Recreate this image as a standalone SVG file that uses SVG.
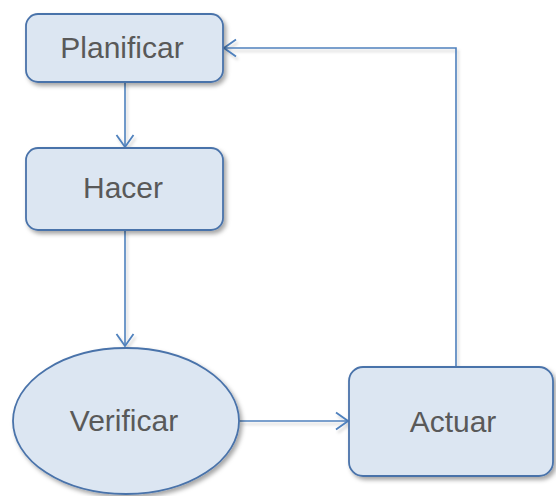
<svg xmlns="http://www.w3.org/2000/svg" width="556" height="496" viewBox="0 0 556 496">
<style>
.node{fill:#dce6f2;stroke:#4a73aa;stroke-width:1.8;filter:url(#sh)}
.lbl{font-family:"Liberation Sans",Arial,sans-serif;font-size:30px;fill:#595959;text-anchor:middle}
.con{fill:none;stroke:#4f81bd;stroke-width:1.6;filter:url(#sh2)}
</style>
<defs>
<filter id="sh" x="-20%" y="-20%" width="140%" height="140%">
<feDropShadow dx="2.5" dy="3" stdDeviation="2" flood-color="#000" flood-opacity="0.35"/>
</filter>
<filter id="sh2" filterUnits="userSpaceOnUse" x="0" y="0" width="556" height="496">
<feDropShadow dx="2" dy="3" stdDeviation="1.5" flood-color="#000" flood-opacity="0.18"/>
</filter>
<marker id="ah" viewBox="0 0 14 20" refX="13" refY="10" markerWidth="14" markerHeight="20" markerUnits="userSpaceOnUse" orient="auto">
<path d="M1,1.5 L13,10 L1,18.5" fill="none" stroke="#4f81bd" stroke-width="1.8"/>
</marker>
</defs>
<g id="connectors">
<path class="con" d="M125,82 V147" marker-end="url(#ah)"/>
<path class="con" d="M125,230 V346" marker-end="url(#ah)"/>
<path class="con" d="M239,421 H348" marker-end="url(#ah)"/>
<path class="con" d="M456,367 V48 H224" marker-end="url(#ah)"/>
</g>
<g id="planificar">
<rect class="node" x="26" y="14" width="197" height="68" rx="12"/>
<text class="lbl" x="122" y="58">Planificar</text>
</g>
<g id="hacer">
<rect class="node" x="26" y="148" width="197" height="82" rx="12"/>
<text class="lbl" x="123" y="198">Hacer</text>
</g>
<g id="verificar">
<ellipse class="node" cx="126" cy="421" rx="113" ry="73"/>
<text class="lbl" x="124" y="431">Verificar</text>
</g>
<g id="actuar">
<rect class="node" x="349" y="367" width="204" height="109" rx="14"/>
<text class="lbl" x="453" y="432">Actuar</text>
</g>
</svg>
